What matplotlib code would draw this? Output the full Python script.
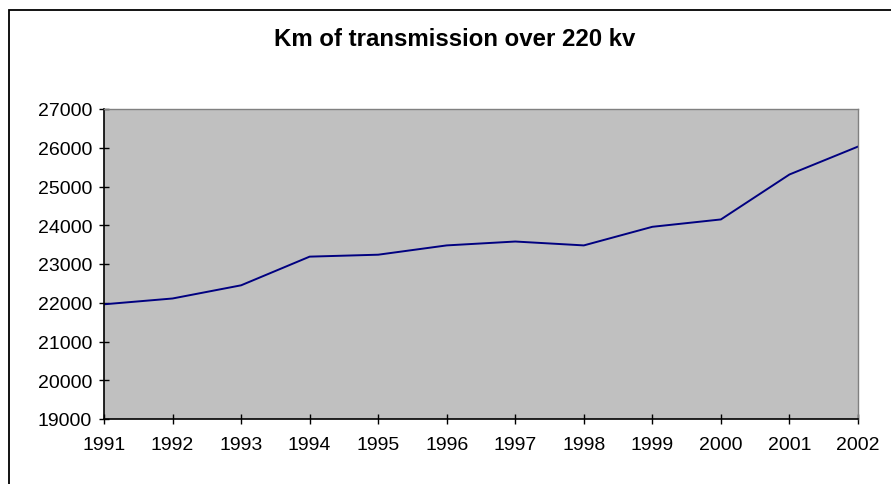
import numpy as np
import matplotlib.pyplot as plt
from matplotlib.patches import Rectangle

# datos
anios = [1991, 1992, 1993, 1994, 1995, 1996, 1997, 1998, 1999, 2000, 2001, 2002]
km = [21960, 22110, 22450, 23190, 23240, 23480, 23580, 23480, 23960, 24150, 25310, 26030]
yticks = [19000, 20000, 21000, 22000, 23000, 24000, 25000, 26000, 27000]

plt.rcParams['font.family'] = ['Liberation Sans', 'DejaVu Sans']

W, H = 891, 485
fig = plt.figure(figsize=(W / 100, H / 100), dpi=100)

# marco exterior (cortado a la derecha y abajo)
fig.patches.append(Rectangle((9 / W, -0.1), 1.2, 1 - 10.5 / H + 0.1,
                             transform=fig.transFigure, fill=False,
                             edgecolor='black', linewidth=1.3))

ax = fig.add_axes([104 / W, 1 - 420 / H, (858 - 104) / W, (420 - 110) / H])
ax.set_facecolor('#C0C0C0')
ax.plot(anios, km, color='#000080', linewidth=1.4)

ax.set_xlim(1991, 2002)
ax.set_ylim(19000, 27000)
ax.set_xticks(anios)
ax.set_yticks(yticks)

for s in ['top', 'right']:
    ax.spines[s].set_color('#808080')
    ax.spines[s].set_linewidth(1.0)
for s in ['left', 'bottom']:
    ax.spines[s].set_color('black')
    ax.spines[s].set_linewidth(1.2)

ax.tick_params(axis='both', direction='inout', length=7, width=1, labelsize=14)
ax.tick_params(axis='x', pad=9)
ax.tick_params(axis='y', pad=5)

fig.text(454.5 / W, 1 - 40 / H, 'Km of transmission over 220 kv',
         ha='center', va='center', fontsize=17.3, fontweight='bold')

plt.savefig('out.png', dpi=100)
